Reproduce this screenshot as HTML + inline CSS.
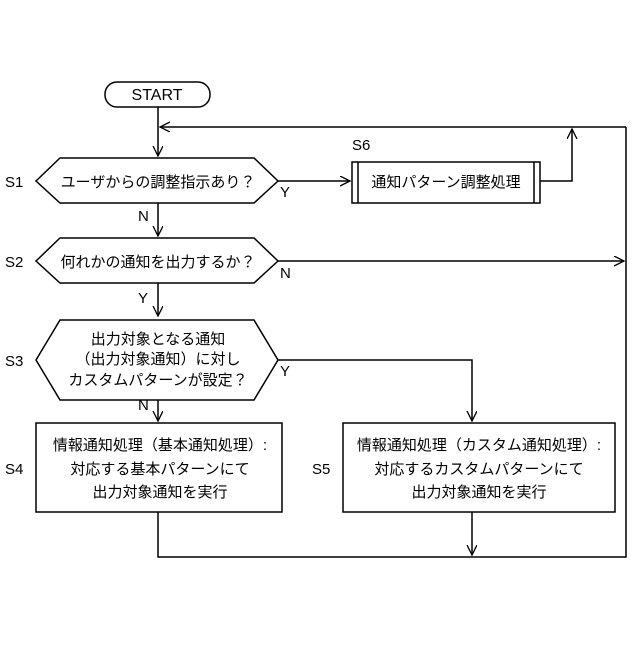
<!DOCTYPE html>
<html><head><meta charset="utf-8"><style>
html,body{margin:0;padding:0;background:#fff}
svg text{font-family:"Liberation Sans","Noto Sans CJK JP",sans-serif;fill:#000}
</style></head><body>
<svg width="640" height="640" viewBox="0 0 640 640" xmlns="http://www.w3.org/2000/svg">
<defs><marker id="a" markerWidth="12" markerHeight="12" refX="10" refY="5" orient="auto" markerUnits="userSpaceOnUse"><path d="M0,0 L10,5 L0,10" fill="none" stroke="#000" stroke-width="1.3"/></marker></defs>
<g fill="none" stroke="#000" stroke-width="1.5">
<rect x="105" y="82" width="105" height="25" rx="12" fill="#fff"/>
<line x1="158" y1="107" x2="158" y2="156" marker-end="url(#a)"/>
<line x1="626" y1="127" x2="160" y2="127" marker-end="url(#a)"/>
<polygon points="36,181 60,158 254,158 278,181 254,203 60,203"/>
<line x1="278" y1="181" x2="350" y2="181" marker-end="url(#a)"/>
<rect x="352" y="162" width="188" height="41"/>
<line x1="358" y1="162" x2="358" y2="203"/><line x1="534" y1="162" x2="534" y2="203"/>
<polyline points="540,181 572,181 572,129" marker-end="url(#a)"/>
<line x1="158" y1="203" x2="158" y2="236" marker-end="url(#a)"/>
<polygon points="36,261 60,238 254,238 278,261 254,283 60,283"/>
<line x1="278" y1="261" x2="624" y2="261" marker-end="url(#a)"/>
<line x1="158" y1="283" x2="158" y2="316" marker-end="url(#a)"/>
<polygon points="36,360 60,320 254,320 278,360 254,400 60,400"/>
<polyline points="278,360 472,360 472,421" marker-end="url(#a)"/>
<line x1="158" y1="400" x2="158" y2="421" marker-end="url(#a)"/>
<rect x="36" y="423" width="246" height="89"/>
<rect x="343" y="423" width="272" height="89"/>
<polyline points="158,512 158,557 626,557 626,127"/>
<line x1="472" y1="512" x2="472" y2="555" marker-end="url(#a)"/>
</g>
<g font-size="15">
<text x="157" y="100" text-anchor="middle" font-size="16">START</text>
<text x="5" y="187">S1</text>
<text x="158" y="187" text-anchor="middle">ユーザからの調整指示あり？</text>
<text x="280" y="197">Y</text>
<text x="352" y="150">S6</text>
<text x="446" y="187" text-anchor="middle">通知パターン調整処理</text>
<text x="138" y="221">N</text>
<text x="5" y="267">S2</text>
<text x="158" y="267" text-anchor="middle">何れかの通知を出力するか？</text>
<text x="280" y="278">N</text>
<text x="138" y="303">Y</text>
<text x="5" y="366">S3</text>
<text x="158" y="344" text-anchor="middle">出力対象となる通知</text>
<text x="158" y="364" text-anchor="middle">（出力対象通知）に対し</text>
<text x="158" y="385" text-anchor="middle">カスタムパターンが設定？</text>
<text x="280" y="376">Y</text>
<text x="138" y="410">N</text>
<text x="5" y="474">S4</text>
<text x="160" y="450" text-anchor="middle">情報通知処理（基本通知処理）:</text>
<text x="160" y="474" text-anchor="middle">対応する基本パターンにて</text>
<text x="160" y="497" text-anchor="middle">出力対象通知を実行</text>
<text x="312" y="474">S5</text>
<text x="479" y="450" text-anchor="middle">情報通知処理（カスタム通知処理）:</text>
<text x="479" y="474" text-anchor="middle">対応するカスタムパターンにて</text>
<text x="479" y="497" text-anchor="middle">出力対象通知を実行</text>
</g>
</svg>
</body></html>
